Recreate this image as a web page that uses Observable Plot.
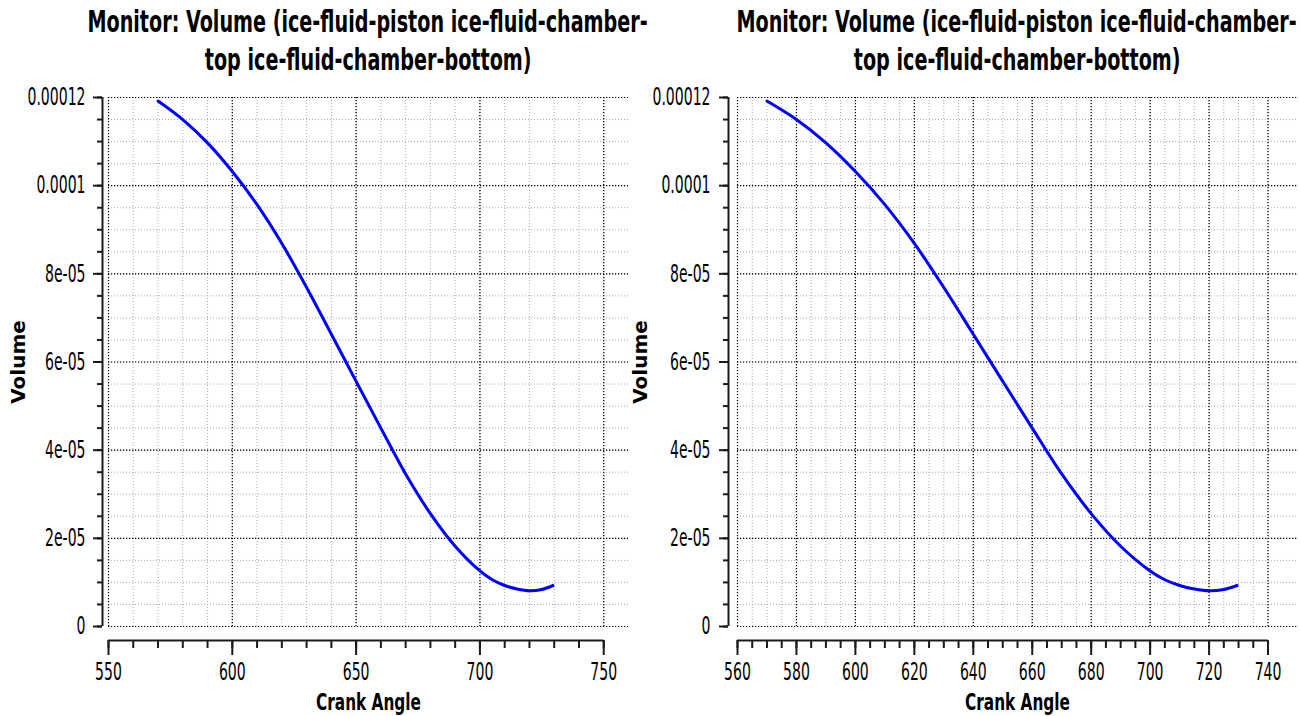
<!DOCTYPE html>
<html>
<head>
<meta charset="utf-8">
<script src="https://cdn.jsdelivr.net/npm/d3@7"></script>
<script src="https://cdn.jsdelivr.net/npm/@observablehq/plot@0.6"></script>
<style>
  html, body { margin: 0; padding: 0; background: #fff; }
  #wrap { position: relative; width: 1300px; height: 716px; overflow: hidden; background: #fff; }
  .panel { position: absolute; top: 0; height: 716px; }
  .title { position: absolute; top: 3px; width: 1000px; text-align: center; font-family: "DejaVu Sans Condensed", sans-serif; font-weight: bold; font-size: 30px; line-height: 38px; color: #000; white-space: nowrap; }
  .title span { display: inline-block; transform: scaleX(0.71); transform-origin: 50% 50%; }
  .chart { position: absolute; top: 80px; left: 0; }
  .chart svg { background: transparent !important; overflow: visible; }
</style>
</head>
<body>
<div id="wrap"></div>
<script>
// ---- data ----
const crankAngle = [570, 580, 590, 600, 610, 620, 630, 640, 650, 660, 670, 680, 690, 700, 705, 710, 715, 720, 725, 729.5];
const volume = [1.192e-4, 1.150e-4, 1.097e-4, 1.032e-4, 0.957e-4, 0.869e-4, 0.769e-4, 0.663e-4, 0.556e-4, 0.450e-4, 0.346e-4, 0.256e-4, 0.182e-4, 0.126e-4, 0.106e-4, 0.093e-4, 0.085e-4, 0.081e-4, 0.084e-4, 0.093e-4];

const titleLines = ["Monitor: Volume (ice-fluid-piston ice-fluid-chamber-", "top ice-fluid-chamber-bottom)"];
const xLabel = "Crank Angle";
const yLabel = "Volume";

const yMajorTicks = [0, 2e-5, 4e-5, 6e-5, 8e-5, 1e-4, 1.2e-4];
const yTickLabels = ["0", "2e-05", "4e-05", "6e-05", "8e-05", "0.0001", "0.00012"];

const leftXMajor = [550, 600, 650, 700, 750];
const rightXMajor = [560, 580, 600, 620, 640, 660, 680, 700, 720, 740];

const data = crankAngle.map((a, i) => ({angle: a, volume: volume[i]}));

const NARROW = '"DejaVu Sans Condensed", sans-serif';
const WIDE = '"DejaVu Sans", Verdana, sans-serif';
const SQUEEZE = 0.65;
const TICK_FS = 24;

const yMinor = d3.range(0, 1.2e-4 + 1e-9, 5e-6);

function squeeze(el, s) {
  const dx = el.getAttribute("dx");
  let pre = "";
  if (dx && !isNaN(parseFloat(dx)) && !/em/.test(dx)) {
    pre = `translate(${parseFloat(dx)},0) `;
    el.removeAttribute("dx");
  }
  el.setAttribute("transform", pre + (el.getAttribute("transform") || "") + ` scale(${s},1)`);
}

function makePanel(cfg) {
  const wrap = document.getElementById("wrap");
  const p = document.createElement("div");
  p.className = "panel";
  p.style.left = cfg.left + "px";
  p.style.width = cfg.width + "px";
  const t = document.createElement("div");
  t.className = "title";
  const center = cfg.marginLeft + (cfg.width - cfg.marginLeft - cfg.marginRight) / 2;
  t.style.left = (center - 500) + "px";
  t.innerHTML = titleLines.map(s => `<span>${s}</span>`).join("<br>");
  p.appendChild(t);

  const xMinor = d3.range(cfg.xMajor[0], cfg.xMajor[cfg.xMajor.length - 1] + 1e-9, cfg.xMinorStep);
  const xMin = cfg.xMajor[0], xMax = cfg.xMajor[cfg.xMajor.length - 1];
  const fmtY = d => {
    const i = yMajorTicks.findIndex(v => Math.abs(v - d) < 1e-9);
    return i >= 0 ? yTickLabels[i] : "";
  };
  const axisColor = "#1a1a1a";
  const chart = Plot.plot({
    width: cfg.width,
    height: 636,
    marginTop: 17,
    marginBottom: 90,
    marginLeft: cfg.marginLeft,
    marginRight: cfg.marginRight,
    x: {domain: cfg.xDomain, label: null},
    y: {domain: [0, 1.2e-4], label: null},
    style: {fontFamily: NARROW, fontSize: TICK_FS + "px", color: "#000", background: "transparent", overflow: "visible"},
    marks: [
      Plot.ruleX(xMinor, {stroke: "#aaaaaa", strokeDasharray: "1,2"}),
      Plot.ruleY(yMinor, {stroke: "#aaaaaa", strokeDasharray: "1,2"}),
      Plot.ruleX(cfg.xMajor, {stroke: "#000", strokeDasharray: "1.3,1.7", strokeWidth: 1.2}),
      Plot.ruleY(yMajorTicks, {stroke: "#000", strokeDasharray: "1.3,1.7", strokeWidth: 1.2}),
      // y axis (offset left of the grid)
      Plot.ruleX([xMin], {dx: cfg.yAxisDx, stroke: axisColor, strokeWidth: 2}),
      Plot.axisY(yMinor, {tickSize: 5, dx: cfg.yAxisDx, tickFormat: () => "", stroke: axisColor, strokeWidth: 2, label: null}),
      Plot.axisY(yMajorTicks, {tickSize: 9, dx: cfg.yAxisDx, tickPadding: cfg.yPad, tickFormat: fmtY, stroke: axisColor, strokeWidth: 2, label: null, fontSize: TICK_FS}),
      // x axis (offset below the grid)
      Plot.ruleY([0], {x1: xMin, x2: xMax, dy: 14, stroke: axisColor, strokeWidth: 2}),
      Plot.axisX(xMinor, {tickSize: 8, dy: 14, tickFormat: () => "", stroke: axisColor, strokeWidth: 2, label: null}),
      Plot.axisX(cfg.xMajor, {tickSize: 15, dy: 14, tickPadding: 7, tickFormat: d => String(d), stroke: axisColor, strokeWidth: 2, label: null, fontSize: TICK_FS}),
      // curve
      Plot.line(data, {x: "angle", y: "volume", stroke: "#0000ff", strokeWidth: 3, curve: "catmull-rom"}),
      // axis titles
      Plot.text([xLabel], {frameAnchor: "bottom", dy: 76, fontFamily: NARROW, fontWeight: "bold", fontSize: 23, lineAnchor: "middle", className: "xtitle"}),
      Plot.text([yLabel], {frameAnchor: "left", dx: cfg.yLabelDx, rotate: -90, textAnchor: "middle", fontFamily: WIDE, fontWeight: "bold", fontSize: 20, lineAnchor: "middle"})
    ]
  });
  // condensed look of the original typeface: squeeze tick labels / x title horizontally
  chart.querySelectorAll('g[aria-label="y-axis tick label"] text, g[aria-label="x-axis tick label"] text').forEach(el => squeeze(el, SQUEEZE));
  chart.querySelectorAll('.xtitle text').forEach(el => squeeze(el, 0.74));
  const c = document.createElement("div");
  c.className = "chart";
  c.appendChild(chart);
  p.appendChild(c);
  wrap.appendChild(p);
}

makePanel({left: 0, width: 630, marginLeft: 108, marginRight: 2, xDomain: [550, 760], xMajor: leftXMajor, xMinorStep: 10, yAxisDx: -6, yPad: 8, yLabelDx: -90});
makePanel({left: 630, width: 670, marginLeft: 107, marginRight: 3, xDomain: [560, 750], xMajor: rightXMajor, xMinorStep: 5, yAxisDx: -9, yPad: 9, yLabelDx: -97});
</script>
</body>
</html>
